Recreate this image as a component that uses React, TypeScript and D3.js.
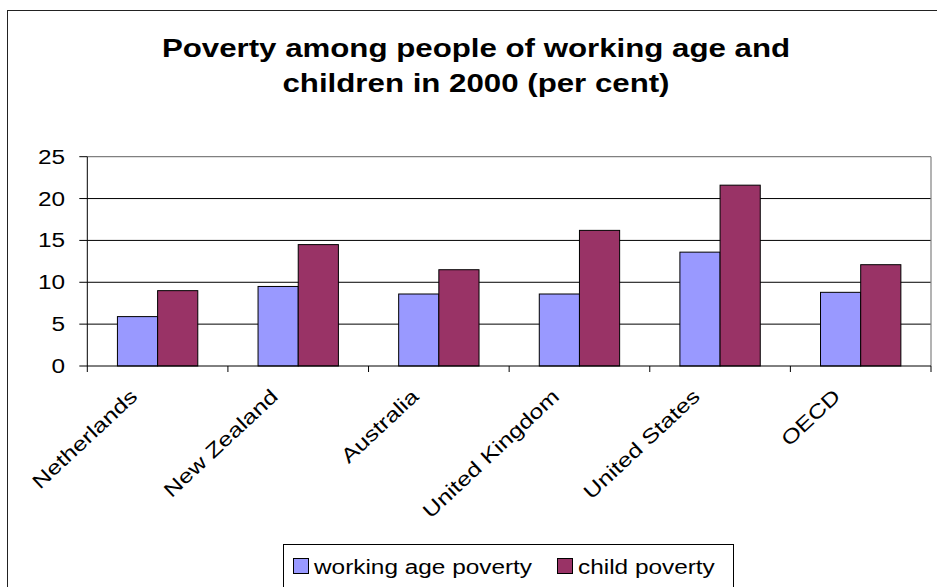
import React from "react";
import * as d3 from "d3";

const categories = ["Netherlands", "New Zealand", "Australia", "United Kingdom", "United States", "OECD"];
const workingAgePoverty = [5.9, 9.5, 8.6, 8.6, 13.6, 8.8];
const childPoverty = [9.0, 14.5, 11.5, 16.2, 21.6, 12.1];
const seriesNames = ["working age poverty", "child poverty"];
const seriesColors = ["#9999FF", "#993366"];
const yTicks = [0, 5, 10, 15, 20, 25];
const titleLines = ["Poverty among people of working age and", "children in 2000 (per cent)"];

const W = 937;
const H = 587;
const plot = { left: 87.3, right: 931, top: 156.7, bottom: 366 };
const SX = 1.25; // horizontal glyph stretch seen in the reference
const FONT = "'Liberation Sans', Arial, sans-serif";

export default function App() {
  const x = d3.scaleBand<string>().domain(categories).range([plot.left, plot.right]).padding(0);
  const xSub = d3
    .scaleBand<number>()
    .domain([0, 1])
    .range([0, x.bandwidth()])
    .paddingInner(0)
    .paddingOuter(0.75);
  const y = d3.scaleLinear().domain([0, 25]).range([plot.bottom, plot.top]);
  const series = [workingAgePoverty, childPoverty];
  const boundaries = categories.map((c) => x(c) as number).concat([plot.right]);

  return (
    <svg
      width={W}
      height={H}
      style={{ position: "absolute", left: 0, top: 0, background: "#fff" }}
      fontFamily={FONT}
    >
      <rect x={0} y={0} width={W} height={H} fill="#fff" />
      {/* chart area border */}
      <rect x={7.5} y={10.5} width={W + 20} height={H + 20} fill="none" stroke="#222" strokeWidth={1} />

      {/* title */}
      {titleLines.map((t, i) => (
        <text
          key={i}
          transform={`translate(${476},${57 + i * 35}) scale(${SX},1)`}
          textAnchor="middle"
          fontSize={25}
          fontWeight="bold"
          fill="#000"
        >
          {t}
        </text>
      ))}

      {/* gridlines */}
      {yTicks.slice(1, -1).map((t) => (
        <line key={t} x1={plot.left} x2={plot.right} y1={y(t)} y2={y(t)} stroke="#000" strokeWidth={1} />
      ))}
      {/* plot border top/right */}
      <line x1={plot.left} x2={plot.right} y1={y(25)} y2={y(25)} stroke="#808080" strokeWidth={1.2} />
      <line x1={plot.right} x2={plot.right} y1={plot.top} y2={plot.bottom} stroke="#808080" strokeWidth={1.2} />

      {/* bars */}
      {categories.map((c, ci) =>
        series.map((s, si) => {
          const bx = (x(c) as number) + (xSub(si) as number);
          return (
            <rect
              key={`${ci}-${si}`}
              x={bx}
              y={y(s[ci])}
              width={xSub.bandwidth()}
              height={plot.bottom - y(s[ci])}
              fill={seriesColors[si]}
              stroke="#000"
              strokeWidth={1}
            />
          );
        })
      )}

      {/* y axis */}
      <line x1={plot.left} x2={plot.left} y1={plot.top} y2={plot.bottom} stroke="#000" strokeWidth={1} />
      {yTicks.map((t) => (
        <g key={t}>
          <line x1={plot.left - 8} x2={plot.left} y1={y(t)} y2={y(t)} stroke="#000" strokeWidth={1} />
          <text
            transform={`translate(${65},${y(t)}) scale(${SX},1)`}
            dy="0.36em"
            textAnchor="end"
            fontSize={19.5}
            fill="#000"
          >
            {t}
          </text>
        </g>
      ))}

      {/* x axis */}
      <line x1={plot.left} x2={plot.right} y1={plot.bottom} y2={plot.bottom} stroke="#000" strokeWidth={1} />
      {boundaries.map((b, i) => (
        <line key={i} x1={b} x2={b} y1={plot.bottom} y2={plot.bottom + 6} stroke="#000" strokeWidth={1} />
      ))}
      {categories.map((c) => {
        const cx = (x(c) as number) + x.bandwidth() / 2;
        return (
          <text
            key={c}
            transform={`translate(${cx - 19},${398}) rotate(-43) scale(${SX},1)`}
            textAnchor="end"
            fontSize={20}
            fill="#000"
          >
            {c}
          </text>
        );
      })}

      {/* legend */}
      <rect x={283.5} y={544.5} width={450} height={50} fill="#fff" stroke="#000" strokeWidth={1} />
      {seriesNames.map((n, i) => {
        const lx = [293, 557][i];
        return (
          <g key={n}>
            <rect x={lx + 0.5} y={558.5} width={15} height={15} fill={seriesColors[i]} stroke="#000" strokeWidth={1} />
            <text transform={`translate(${lx + 21},${574}) scale(${SX},1)`} fontSize={19.5} fill="#000">
              {n}
            </text>
          </g>
        );
      })}
    </svg>
  );
}
